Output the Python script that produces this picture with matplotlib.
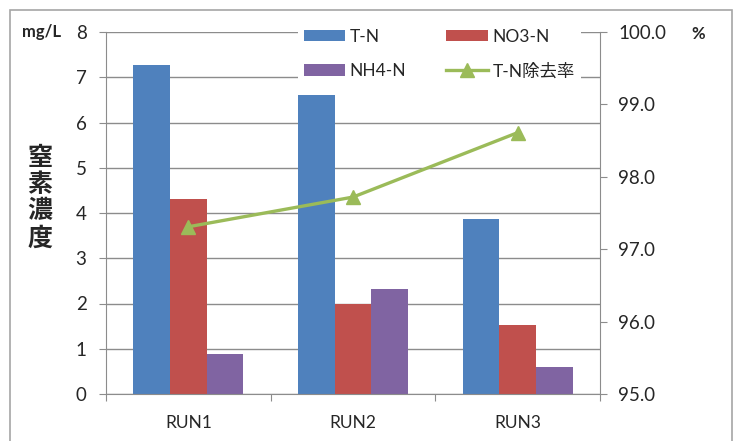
import matplotlib
matplotlib.use('Agg')
import matplotlib.pyplot as plt
from matplotlib.patches import Rectangle
import numpy as np

plt.rcParams['font.family'] = ['Lato', 'Noto Sans CJK JP', 'DejaVu Sans']

# 各RUNの窒素濃度 (mg/L) と T-N除去率 (%)
runs = ['RUN1', 'RUN2', 'RUN3']
tn = [7.28, 6.60, 3.87]
no3 = [4.30, 1.99, 1.52]
nh4 = [0.88, 2.32, 0.59]
removal = [97.31, 97.72, 98.61]

c_tn = '#4F81BD'
c_no3 = '#C0504D'
c_nh4 = '#8064A2'
c_line = '#9BBB59'
grid_c = '#8C8C8C'
txt_c = '#262626'

fig = plt.figure(figsize=(7.37, 4.41), dpi=100)

# 外枠
fig.patches.append(Rectangle((10/737, -0.1), 722/737, 1.1 - 10/441,
                             transform=fig.transFigure, fill=False,
                             edgecolor='#A6A6A6', lw=1.2))

ax = fig.add_axes([106/737, 47/441, 494/737, 362/441])
x = np.arange(len(runs))
w = 0.223
b1 = ax.bar(x - w, tn, w, color=c_tn, label='T-N', zorder=2)
b2 = ax.bar(x, no3, w, color=c_no3, label='NO3-N', zorder=2)
b3 = ax.bar(x + w, nh4, w, color=c_nh4, label='NH4-N', zorder=2)

ax.set_xlim(-0.5, 2.5)
ax.set_ylim(0, 8)
ax.set_yticks(range(0, 9))
ax.yaxis.grid(True, color=grid_c, lw=1)
ax.set_axisbelow(True)

ax.set_xticks([-0.5, 0.5, 1.5, 2.5])
ax.set_xticklabels([])
ax.set_xticks(x, minor=True)
ax.set_xticklabels(runs, minor=True)
ax.tick_params(axis='x', which='major', length=5, color=grid_c, direction='out')
ax.tick_params(axis='x', which='minor', length=0, pad=15, labelsize=12.5, labelcolor=txt_c)
ax.tick_params(axis='y', length=5, color=grid_c, pad=9, labelsize=13.5, labelcolor=txt_c)

for s in ['top', 'right']:
    ax.spines[s].set_visible(False)
for s in ['left', 'bottom']:
    ax.spines[s].set_color(grid_c)

# 除去率 (右軸)
ax2 = ax.twinx()
ln, = ax2.plot(x, removal, color=c_line, lw=2.4, marker='^', ms=10,
               label='T-N除去率', zorder=3)
ax2.set_ylim(95, 100)
ax2.set_yticks(np.arange(95, 100.1, 1))
ax2.set_yticklabels(['%.1f' % v for v in np.arange(95, 100.1, 1)])
ax2.tick_params(axis='y', length=5, color=grid_c, pad=8, labelsize=13.5, labelcolor=txt_c)
for s in ['top', 'left', 'bottom']:
    ax2.spines[s].set_visible(False)
ax2.spines['right'].set_color(grid_c)

leg = ax2.legend([b1, b3, b2, ln], ['T-N', 'NH4-N', 'NO3-N', 'T-N除去率'],
                 ncol=2, loc='upper left', bbox_to_anchor=(289/737, 1 - 14/441),
                 bbox_transform=fig.transFigure, fontsize=12.5,
                 handlelength=2.4, handleheight=0.65, handletextpad=0.25,
                 columnspacing=2.3, labelspacing=1.05, borderpad=0.35,
                 frameon=True, fancybox=False, framealpha=1,
                 facecolor='white', edgecolor='none')
for t in leg.get_texts():
    t.set_color(txt_c)

fig.text(42/737, 1 - 32/441, 'mg/L', fontsize=12, fontweight='bold',
         ha='center', va='center', color=txt_c)
fig.text(698/737, 1 - 34/441, '%', fontsize=12, fontweight='bold',
         ha='center', va='center', color=txt_c)
fig.text(40/737, 1 - 198/441, '窒\n素\n濃\n度', fontsize=18, fontweight='bold',
         ha='center', va='center', linespacing=1.15, color=txt_c,
         family=['Noto Sans CJK JP'])

fig.savefig('out.png', dpi=100)
